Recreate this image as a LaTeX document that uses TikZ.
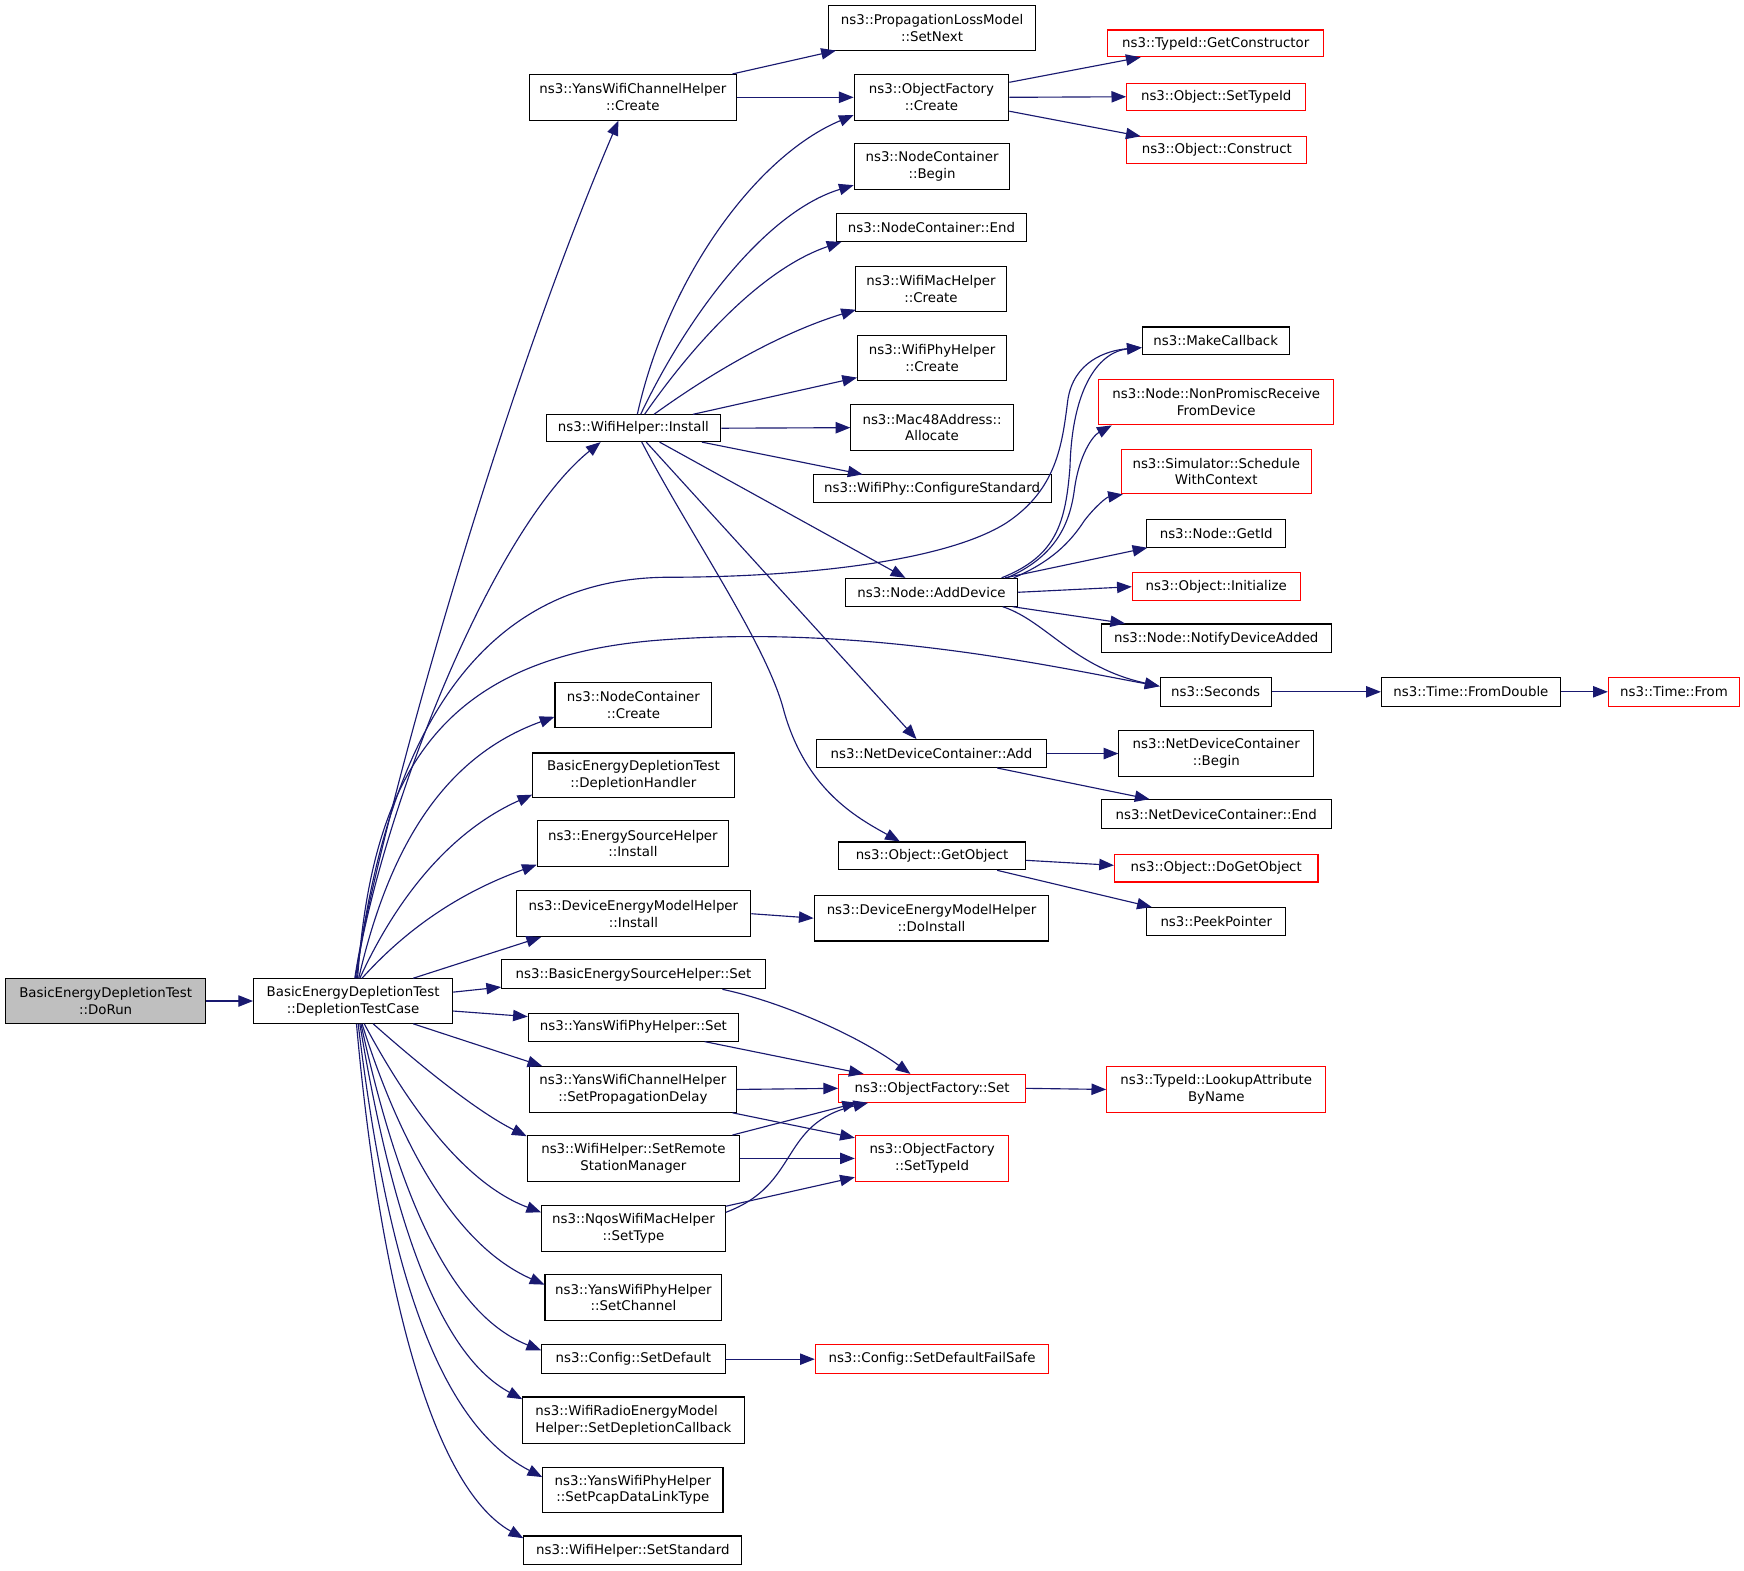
\documentclass[tikz,border=0pt]{standalone}
\usepackage{fontspec}
\setmainfont{DejaVu Sans}
\usetikzlibrary{arrows.meta,calc}
\definecolor{edgecol}{HTML}{191970}
\definecolor{rootfill}{HTML}{BFBFBF}
\newcommand\mkbox[7][]{\node[box,#1,minimum width={(#4-#2)*0.8333pt},minimum height={(#5-#3)*0.8333pt}] (#6) at ({(#2+#4)/2},{(#3+#5)/2}) {#7};}
\tikzset{
  box/.style={draw=black, fill=white, line width=0.8pt, inner sep=0pt, align=center, font=\fontsize{10}{12.5}\selectfont},
  redbox/.style={draw=red},
  edge/.style={draw=edgecol, line width=0.85pt, -{Triangle[length=11pt,width=8.5pt]}}
}
\begin{document}
\begin{tikzpicture}[x=0.8333pt,y=-0.8333pt]
\fill[white] (0,0) rectangle (1568,1412.4);
\useasboundingbox (0,0) rectangle (1568,1412.4);
% column 1-2
\mkbox[fill=rootfill]{5}{880}{185}{920}{dorun}{BasicEnergyDepletionTest\\::DoRun}
\mkbox{228}{880}{407}{920}{dtc}{BasicEnergyDepletionTest\\::DepletionTestCase}
% column 3
\mkbox{476}{67}{662}{108}{yc}{ns3::YansWifiChannelHelper\\::Create}
\mkbox{491}{373}{648}{397}{inst}{ns3::WifiHelper::Install}
\mkbox{499}{614}{640}{654}{ncc}{ns3::NodeContainer\\::Create}
\mkbox{479}{677}{660}{717}{dh}{BasicEnergyDepletionTest\\::DepletionHandler}
\mkbox{483}{738}{655}{779}{esh}{ns3::EnergySourceHelper\\::Install}
\mkbox{464}{801}{675}{842}{demh}{ns3::DeviceEnergyModelHelper\\::Install}
\mkbox{451}{863}{688}{889}{besh}{ns3::BasicEnergySourceHelper::Set}
\mkbox{475}{911}{664}{936}{ywps}{ns3::YansWifiPhyHelper::Set}
\mkbox{476}{959}{662}{1000}{spd}{ns3::YansWifiChannelHelper\\::SetPropagationDelay}
\mkbox{474}{1021}{665}{1062}{srsm}{ns3::WifiHelper::SetRemote\\StationManager}
\mkbox{487}{1084}{652}{1125}{nqos}{ns3::NqosWifiMacHelper\\::SetType}
\mkbox{490}{1146}{649}{1187}{sch}{ns3::YansWifiPhyHelper\\::SetChannel}
\mkbox{487}{1209}{652}{1235}{csd}{ns3::Config::SetDefault}
\mkbox[align=left]{470}{1256}{669}{1298}{sdc}{ns3::WifiRadioEnergyModel\\Helper::SetDepletionCallback}
\mkbox{488}{1319}{650}{1360}{pcap}{ns3::YansWifiPhyHelper\\::SetPcapDataLinkType}
\mkbox{471}{1381}{667}{1407}{sstd}{ns3::WifiHelper::SetStandard}
% column 4
\mkbox{745}{5}{931}{45}{snext}{ns3::PropagationLossModel\\::SetNext}
\mkbox{768}{67}{907}{108}{ofc}{ns3::ObjectFactory\\::Create}
\mkbox{768}{129}{908}{170}{ncb}{ns3::NodeContainer\\::Begin}
\mkbox{752}{192}{923}{217}{nce}{ns3::NodeContainer::End}
\mkbox{769}{240}{905}{280}{wmc}{ns3::WifiMacHelper\\::Create}
\mkbox{771}{302}{905}{342}{wpc}{ns3::WifiPhyHelper\\::Create}
\mkbox{765}{364}{911}{405}{mac}{ns3::Mac48Address::\\Allocate}
\mkbox{731}{427}{945}{452}{cfg}{ns3::WifiPhy::ConfigureStandard}
\mkbox{760}{520}{915}{545}{add}{ns3::Node::AddDevice}
\mkbox{734}{665}{941}{690}{ndca}{ns3::NetDeviceContainer::Add}
\mkbox{754}{757}{922}{782}{gobj}{ns3::Object::GetObject}
\mkbox{732}{805}{943}{846}{doi}{ns3::DeviceEnergyModelHelper\\::DoInstall}
\mkbox[redbox]{754}{966}{922}{991}{ofs}{ns3::ObjectFactory::Set}
\mkbox[redbox]{769}{1021}{907}{1062}{oft}{ns3::ObjectFactory\\::SetTypeId}
\mkbox[redbox]{733}{1209}{943}{1235}{fs}{ns3::Config::SetDefaultFailSafe}
% column 5
\mkbox[redbox]{996}{27}{1190}{51}{gc}{ns3::TypeId::GetConstructor}
\mkbox[redbox]{1013}{75}{1174}{99}{ost}{ns3::Object::SetTypeId}
\mkbox[redbox]{1013}{123}{1175}{147}{oc}{ns3::Object::Construct}
\mkbox{1027}{294}{1159}{319}{mcb}{ns3::MakeCallback}
\mkbox[redbox]{988}{341}{1199}{382}{npr}{ns3::Node::NonPromiscReceive\\FromDevice}
\mkbox[redbox]{1008}{404}{1179}{444}{swc}{ns3::Simulator::Schedule\\WithContext}
\mkbox{1031}{467}{1156}{492}{gid}{ns3::Node::GetId}
\mkbox[redbox]{1018}{515}{1169}{540}{oi}{ns3::Object::Initialize}
\mkbox{990}{561}{1197}{587}{nda}{ns3::Node::NotifyDeviceAdded}
\mkbox{1043}{609}{1143}{635}{sec}{ns3::Seconds}
\mkbox{1006}{657}{1181}{698}{ndcb}{ns3::NetDeviceContainer\\::Begin}
\mkbox{990}{719}{1197}{745}{ndce}{ns3::NetDeviceContainer::End}
\mkbox[redbox]{1002}{768}{1185}{793}{dgo}{ns3::Object::DoGetObject}
\mkbox{1031}{816}{1156}{841}{pp}{ns3::PeekPointer}
\mkbox[redbox]{995}{959}{1192}{1000}{lab}{ns3::TypeId::LookupAttribute\\ByName}
% columns 6-7
\mkbox{1242}{609}{1403}{635}{tfd}{ns3::Time::FromDouble}
\mkbox[redbox]{1446}{609}{1564}{635}{tf}{ns3::Time::From}
% ---------- edges ----------
\draw[edge] (dorun.east) -- (dtc.west);
% from DepletionTestCase, upwards
\draw[edge] ($(dtc.north)+(1.5,0)$) .. controls (335,770) and (440,380) .. ($(yc.south)+(-13,0)$);
\draw[edge] ($(dtc.north)+(2,0)$) .. controls (340,740) and (440,478) .. ($(inst.south)+(-29.5,0)$);
\draw[edge] ($(dtc.north)+(3,0)$) .. controls (345,680) and (420,520) .. (600,519)
  .. controls (720,519) and (850,505) .. (905,470)
  .. controls (950,440) and (955,400) .. (960,360)
  .. controls (965,325) and (995,315) .. ($(mcb.west)+(0,6)$);
\draw[edge] ($(dtc.north)+(4,0)$) .. controls (335,690) and (400,588) .. (600,575)
  .. controls (780,562) and (950,600) .. ($(sec.west)+(0,-5)$);
\draw[edge] ($(dtc.north)+(5,0)$) .. controls (350,760) and (400,680) .. ($(ncc.south west)+(0,-10)$);
\draw[edge] ($(dtc.north)+(6,0)$) .. controls (360,800) and (410,745) .. ($(dh.south west)+(0,-3)$);
\draw[edge] ($(dtc.north)+(8,0)$) .. controls (370,830) and (420,800) .. ($(esh.south west)+(0,-2)$);
\draw[edge] ($(dtc.north)+(54,0)$) -- ($(demh.south west)+(23,0)$);
\draw[edge] ($(dtc.east)+(0,-8)$) -- ($(besh.south west)+(0,-2)$);
\draw[edge] ($(dtc.east)+(0,9)$) -- ($(ywps.west)+(0,-9.5)$);
% from DepletionTestCase, downwards
\draw[edge] ($(dtc.south)+(54,0)$) -- ($(spd.north west)+(12,0)$);
\draw[edge] ($(dtc.south)+(18,0)$) .. controls (380,960) and (430,1000) .. ($(srsm.north west)+(0,1)$);
\draw[edge] ($(dtc.south)+(10,0)$) .. controls (370,1000) and (420,1065) .. ($(nqos.west)+(0,-14.5)$);
\draw[edge] ($(dtc.south)+(8,0)$) .. controls (360,1030) and (410,1120) .. ($(sch.west)+(0,-11.5)$);
\draw[edge] ($(dtc.south)+(7,0)$) .. controls (355,1060) and (400,1180) .. ($(csd.west)+(0,-8)$);
\draw[edge] ($(dtc.south)+(6,0)$) .. controls (350,1080) and (390,1215) .. ($(sdc.west)+(0,-19)$);
\draw[edge] ($(dtc.south)+(4.5,0)$) .. controls (345,1110) and (385,1275) .. ($(pcap.west)+(0,-11.5)$);
\draw[edge] ($(dtc.south)+(3,0)$) .. controls (340,1140) and (385,1335) .. ($(sstd.west)+(0,-11)$);
% from WifiHelper::Install
\draw[edge] ($(inst.north)+(3.5,0)$) .. controls (600,250) and (680,140) .. ($(ofc.south west)+(0,-5)$);
\draw[edge] ($(inst.north)+(6.5,0)$) .. controls (620,280) and (690,190) .. ($(ncb.south west)+(0,-4)$);
\draw[edge] ($(inst.north)+(10,0)$) .. controls (630,300) and (690,240) .. ($(nce.south west)+(5,0)$);
\draw[edge] ($(inst.north)+(18.5,0)$) .. controls (640,335) and (700,300) .. ($(wmc.south west)+(1,-2)$);
\draw[edge] ($(inst.north)+(53.5,0)$) -- ($(wpc.south west)+(0,-3)$);
\draw[edge] (inst.east) -- (mac.west);
\draw[edge] ($(inst.south)+(61.5,0)$) -- ($(cfg.north west)+(45,0)$);
\draw[edge] ($(inst.south)+(23.5,0)$) -- ($(add.north)+(-23.5,0)$);
\draw[edge] ($(inst.south)+(11.5,0)$) -- ($(ndca.north)+(-13.5,0)$);
\draw[edge] ($(inst.south)+(7.5,0)$) .. controls (620,480) and (690,580) .. (705,640)
  .. controls (725,710) and (770,735) .. ($(gobj.north)+(-29,0)$);
% from YansWifiChannelHelper::Create and ObjectFactory::Create
\draw[edge] ($(yc.north east)+(-4,0)$) -- ($(snext.south west)+(7,0)$);
\draw[edge] (yc.east) -- (ofc.west);
\draw[edge] ($(ofc.east)+(0,-13.5)$) -- ($(gc.south west)+(30,0)$);
\draw[edge] (ofc.east) -- (ost.west);
\draw[edge] ($(ofc.east)+(0,12.5)$) -- ($(oc.north west)+(13,0)$);
% from Node::AddDevice
\draw[edge] ($(add.north east)+(-15,0)$) .. controls (950,500) and (958,470) .. (962,420)
  .. controls (964,345) and (990,316) .. ($(mcb.west)+(0,6)$);
\draw[edge] ($(add.north east)+(-10,0)$) .. controls (950,500) and (962,470) .. (966,440)
  .. controls (970,410) and (982,392) .. ($(npr.south west)+(12,0)$);
\draw[edge] ($(add.north east)+(-4,0)$) .. controls (945,505) and (962,488) .. (975,468)
  .. controls (985,455) and (995,447) .. ($(swc.south west)+(2,0)$);
\draw[edge] ($(add.north east)+(-12,0)$) -- ($(gid.south west)+(1,0)$);
\draw[edge] (add.east) -- (oi.west);
\draw[edge] ($(add.south east)+(-5,0)$) -- ($(nda.north west)+(22,0)$);
\draw[edge] ($(add.south east)+(-14,0)$) .. controls (940,558) and (965,600) .. ($(sec.west)+(0,-5)$);
% NetDeviceContainer::Add, Object::GetObject, DeviceEnergyModelHelper
\draw[edge] (ndca.east) -- (ndcb.west);
\draw[edge] ($(ndca.south east)+(-45,0)$) -- ($(ndce.north west)+(44,0)$);
\draw[edge] ($(gobj.east)+(0,4)$) -- ($(dgo.west)+(0,-2.5)$);
\draw[edge] ($(gobj.south east)+(-26,0)$) -- ($(pp.north west)+(5,0)$);
\draw[edge] (demh.east) -- (doi.west);
% to ObjectFactory::Set / SetTypeId
\draw[edge] ($(besh.south east)+(-39,0)$) .. controls (700,900) and (770,930) .. ($(ofs.north west)+(65,0)$);
\draw[edge] ($(ywps.south east)+(-31,0)$) -- ($(ofs.north west)+(23,0)$);
\draw[edge] (spd.east) -- (ofs.west);
\draw[edge] ($(spd.south east)+(-4,0)$) -- ($(oft.west)+(0,-18.5)$);
\draw[edge] ($(srsm.north east)+(-7,0)$) -- ($(ofs.south west)+(17,0)$);
\draw[edge] (srsm.east) -- (oft.west);
\draw[edge] ($(nqos.east)+(0,-14.5)$) .. controls (720,1065) and (700,1010) .. ($(ofs.south west)+(27,0)$);
\draw[edge] ($(nqos.north east)+(0,1)$) -- ($(oft.south west)+(0,-4)$);
\draw[edge] (csd.east) -- (fs.west);
\draw[edge] (ofs.east) -- (lab.west);
% Seconds chain
\draw[edge] (sec.east) -- (tfd.west);
\draw[edge] (tfd.east) -- (tf.west);
\end{tikzpicture}
\end{document}
